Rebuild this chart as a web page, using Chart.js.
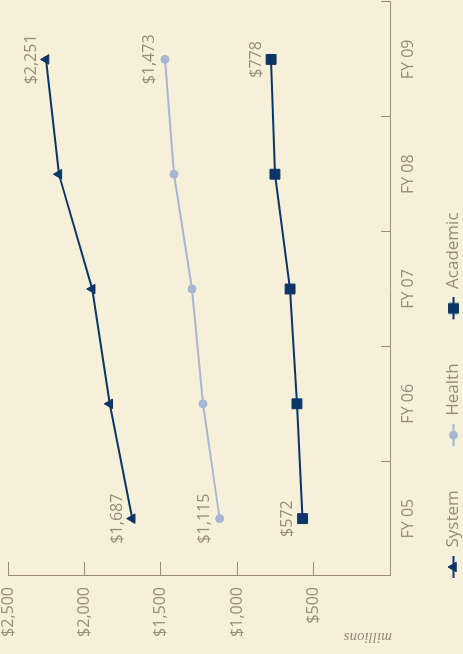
<!DOCTYPE html>
<html>
<head>
<meta charset="utf-8">
<script src="https://cdn.jsdelivr.net/npm/chart.js@4/dist/chart.umd.min.js"></script>
<style>
  html, body { margin: 0; padding: 0; background: #f6f0d9; overflow: hidden; }
  body { width: 463px; height: 654px; position: relative; }
  /* the chart is laid out landscape and turned a quarter turn counter-clockwise */
  #wrap {
    position: absolute; left: 0; top: 0;
    width: 654px; height: 463px;
    transform-origin: 0 0;
    transform: translate(0, 654px) rotate(-90deg);
  }
</style>
</head>
<body>
<div id="wrap"><canvas id="c" width="654" height="463"></canvas></div>
<script>
// Fiscal years
const categories = ['FY 05', 'FY 06', 'FY 07', 'FY 08', 'FY 09'];

// Spending, $ millions
const systemValues   = [1687, 1834, 1949, 2167, 2251];
const healthValues   = [1115, 1224, 1296, 1414, 1473];
const academicValues = [572, 609, 654, 753, 778];

const seriesNames = ['System', 'Health', 'Academic'];

// Value axis ticks
const valueTicks = [0, 500, 1000, 1500, 2000, 2500];
const axisTitle = 'millions';

const NAVY = '#0b3567';
const LIGHT = '#a6b6d3';
const AXIS = '#9c8a76';
const TEXT = '#9a8b79';
const BG = '#f6f0d9';

Chart.defaults.font.family = '"Open Sans", "Noto Sans", sans-serif';
Chart.defaults.color = TEXT;

const money = v => '$' + v.toLocaleString('en-US');

const seriesStyle = [
  { color: NAVY,  pointStyle: 'triangle', radius: 5.5 },
  { color: LIGHT, pointStyle: 'circle',   radius: 4 },
  { color: NAVY,  pointStyle: 'rect',     radius: 7 }
];

// legend icon: short line with the series marker, placed at the right end of a wider box
const ICON_W = 64, ICON_H = 17, ICON_LINE = 22;
function makeIcon(style) {
  const cv = document.createElement('canvas');
  cv.width = ICON_W; cv.height = ICON_H;
  const g = cv.getContext('2d');
  const cx = ICON_W - ICON_LINE / 2, cy = ICON_H / 2;
  g.strokeStyle = style.color;
  g.fillStyle = style.color;
  g.lineWidth = 2;
  g.beginPath();
  g.moveTo(ICON_W - ICON_LINE, cy);
  g.lineTo(ICON_W, cy);
  g.stroke();
  g.lineWidth = 1;
  Chart.helpers.drawPoint(g, { pointStyle: style.pointStyle, radius: style.radius, rotation: 0, borderWidth: 1 }, cx, cy);
  return cv;
}
const legendIcons = seriesStyle.map(makeIcon);

const seriesData = [systemValues, healthValues, academicValues];

const datasets = seriesData.map((vals, i) => ({
  label: seriesNames[i],
  data: vals,
  borderColor: seriesStyle[i].color,
  backgroundColor: seriesStyle[i].color,
  pointBackgroundColor: seriesStyle[i].color,
  pointBorderColor: seriesStyle[i].color,
  pointStyle: seriesStyle[i].pointStyle,
  pointRadius: seriesStyle[i].radius,
  pointBorderWidth: 1,
  borderWidth: 2,
  tension: 0,
  fill: false,
  clip: false
}));

// value labels on first and last points of each series
const endLabels = {
  id: 'endLabels',
  afterDatasetsDraw(chart) {
    const ctx = chart.ctx;
    ctx.save();
    ctx.font = '16px "Open Sans", "Noto Sans", sans-serif';
    ctx.fillStyle = TEXT;
    ctx.textAlign = 'center';
    ctx.textBaseline = 'middle';
    chart.data.datasets.forEach((ds, i) => {
      const meta = chart.getDatasetMeta(i);
      [0, ds.data.length - 1].forEach(idx => {
        const el = meta.data[idx];
        ctx.fillText(money(ds.data[idx]), el.x, el.y - 15);
      });
    });
    ctx.restore();
  }
};

// unit caption running up the value axis from its base
const unitCaption = {
  id: 'unitCaption',
  afterDraw(chart) {
    const ctx = chart.ctx;
    const y = chart.scales.y;
    ctx.save();
    ctx.font = 'italic 15px "Liberation Serif", "DejaVu Serif", serif';
    ctx.fillStyle = TEXT;
    ctx.textAlign = 'left';
    ctx.textBaseline = 'middle';
    ctx.translate(y.right - 61, y.bottom + 2);
    ctx.rotate(-Math.PI / 2);
    ctx.fillText(axisTitle, 0, 0);
    ctx.restore();
  }
};

// legend row starts a little in from the left edge
const LEGEND_INSET = 32;
const legendInset = {
  id: 'legendInset',
  afterLayout(chart) {
    if (chart.legend) chart.legend.left += LEGEND_INSET;
  }
};

const background = {
  id: 'background',
  beforeDraw(chart) {
    const ctx = chart.ctx;
    ctx.save();
    ctx.fillStyle = BG;
    ctx.fillRect(0, 0, chart.width, chart.height);
    ctx.restore();
  }
};

new Chart(document.getElementById('c'), {
  type: 'line',
  data: { labels: categories, datasets },
  options: {
    responsive: false,
    animation: false,
    devicePixelRatio: 1,
    events: [],
    layout: { autoPadding: false, padding: { left: 0, right: 2, top: 8, bottom: 0 } },
    scales: {
      x: {
        type: 'category',
        offset: true,
        border: { display: true, color: AXIS, width: 1 },
        grid: { offset: true, drawOnChartArea: false, drawTicks: true, tickLength: -9, color: AXIS },
        ticks: { padding: 18, font: { size: 16 }, color: TEXT, maxRotation: 0 },
        afterFit(s) { s.height = 53; s.paddingLeft = 0; s.paddingRight = 0; }
      },
      y: {
        min: valueTicks[0],
        max: valueTicks[valueTicks.length - 1],
        afterBuildTicks(s) { s.ticks = valueTicks.map(v => ({ value: v })); },
        border: { display: true, color: AXIS, width: 1 },
        grid: { drawOnChartArea: false, drawTicks: true, tickLength: -14, color: AXIS },
        ticks: {
          padding: 25,
          font: { size: 16, lineHeight: 1 },
          color: TEXT,
          callback: v => (v === 0 ? '' : money(v))
        },
        afterFit(s) { s.width = 78; s.paddingTop = 8; s.paddingBottom = 8; }
      }
    },
    plugins: {
      tooltip: { enabled: false },
      legend: {
        position: 'bottom',
        align: 'start',
        maxHeight: 20,
        labels: {
          usePointStyle: true,
          pointStyleWidth: ICON_W,
          padding: 2,
          color: TEXT,
          font: { size: 17 },
          generateLabels(chart) {
            const items = Chart.defaults.plugins.legend.labels.generateLabels(chart);
            items.forEach((it, i) => { it.pointStyle = legendIcons[i]; });
            return items;
          }
        }
      }
    }
  },
  plugins: [background, legendInset, endLabels, unitCaption]
});
</script>
</body>
</html>
